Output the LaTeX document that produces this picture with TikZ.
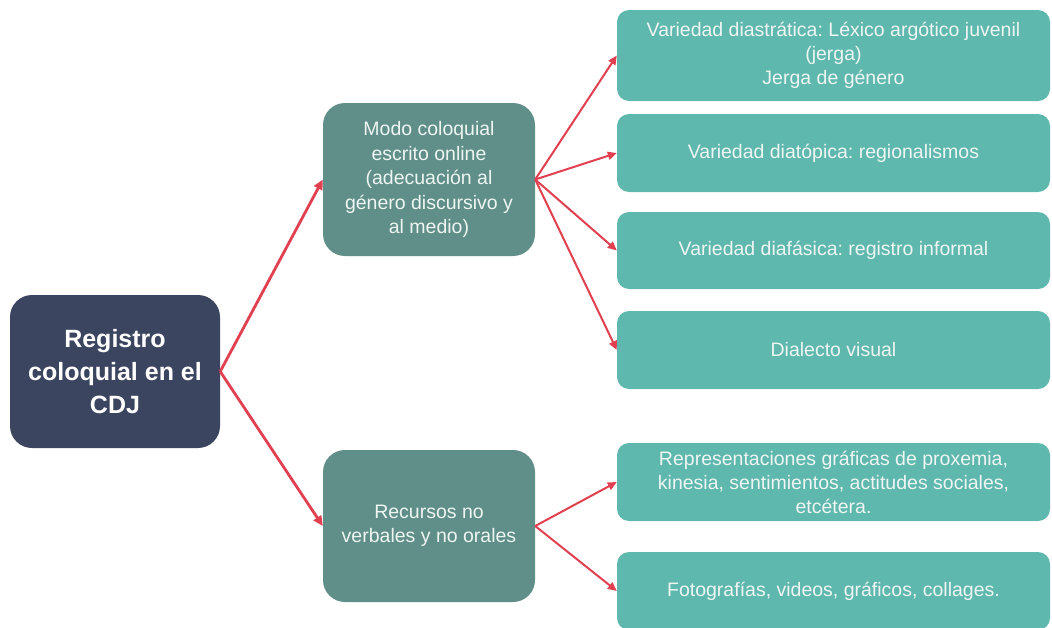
\documentclass[tikz,border=0pt]{standalone}
\usepackage{fontspec}
\setmainfont{Liberation Sans}
\usetikzlibrary{arrows.meta}
\frenchspacing
\definecolor{rootc}{HTML}{3C4560}
\definecolor{midc}{HTML}{5F8F88}
\definecolor{leafc}{HTML}{5FB8AE}
\definecolor{arrc}{HTML}{E0404F}
\definecolor{txtc}{HTML}{EEF5F3}
\tikzset{
  rootbox/.style={fill=rootc, rounded corners=22pt, minimum width=210pt, minimum height=153pt,
    text=white, align=center, font=\bfseries\fontsize{25}{33}\selectfont, inner sep=0pt},
  midbox/.style={fill=midc, rounded corners=22pt, minimum width=212pt, minimum height=153pt,
    text=txtc, align=center, font=\fontsize{19.5}{24.5}\selectfont, inner sep=0pt},
  leafbox/.style={fill=leafc, rounded corners=12pt, minimum width=433pt,
    text=txtc, align=center, font=\fontsize{19.5}{24}\selectfont, inner sep=0pt},
  conn/.style={draw=arrc, line width=2.8pt, -{Triangle[length=10pt,width=9pt]}},
  conn2/.style={draw=arrc, line width=2pt, -{Triangle[length=9pt,width=8pt]}}
}
\begin{document}
\begin{tikzpicture}[x=1pt,y=-1pt]
\useasboundingbox (0,0) rectangle (1052,627);
\node[rootbox] (root) at (115,371.5) {Registro\\coloquial en el\\CDJ};
\node[midbox] (m1) at (429,179.5) {Modo coloquial\\escrito online\\(adecuación al\\género discursivo y\\al medio)};
\node[midbox, minimum height=152pt] (m2) at (429,526) {Recursos no\\verbales y no orales};
\node[leafbox, minimum height=91pt] (l1) at (833.5,55.5) {Variedad diastrática: Léxico argótico juvenil\\(jerga)\\Jerga de género};
\node[leafbox, minimum height=78pt] (l2) at (833.5,153) {Variedad diatópica: regionalismos};
\node[leafbox, minimum height=77pt] (l3) at (833.5,250.5) {Variedad diafásica: registro informal};
\node[leafbox, minimum height=78pt] (l4) at (833.5,350) {Dialecto visual};
\node[leafbox, minimum height=78pt] (l5) at (833.5,482) {Representaciones gráficas de proxemia,\\kinesia, sentimientos, actitudes sociales,\\etcétera.};
\node[leafbox, minimum height=78pt] (l6) at (833.5,591) {Fotografías, videos, gráficos, collages.};
\draw[conn] (root.east) -- (m1.west);
\draw[conn] (root.east) -- (m2.west);
\draw[conn2] (m1.east) -- (l1.west);
\draw[conn2] (m1.east) -- (l2.west);
\draw[conn2] (m1.east) -- (l3.west);
\draw[conn2] (m1.east) -- (l4.west);
\draw[conn2] (m2.east) -- (l5.west);
\draw[conn2] (m2.east) -- (l6.west);
\end{tikzpicture}
\end{document}
